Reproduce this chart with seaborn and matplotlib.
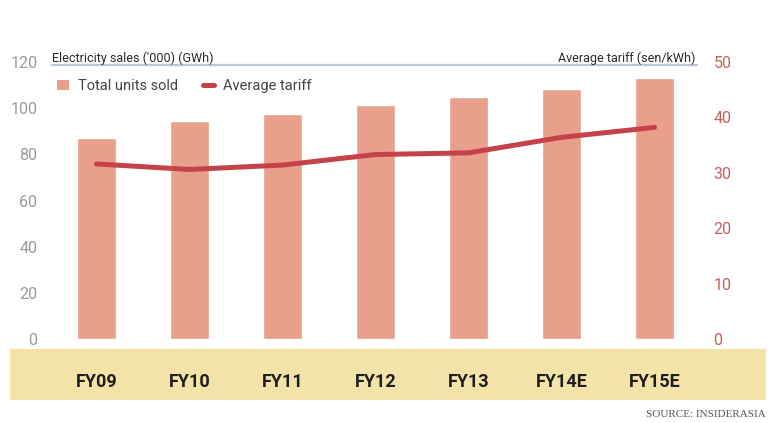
import numpy as np
import pandas as pd
import matplotlib
matplotlib.use("Agg")
import matplotlib.pyplot as plt
import seaborn as sns
from matplotlib.patches import Rectangle, Patch
from matplotlib.lines import Line2D

categories = ["FY09", "FY10", "FY11", "FY12", "FY13", "FY14E", "FY15E"]
units_sold = [87, 94.5, 97.5, 101.5, 105, 108.5, 113]          # '000 GWh
avg_tariff = [31.6, 30.6, 31.4, 33.3, 33.6, 36.4, 38.2]         # sen/kWh
left_ticks = [0, 20, 40, 60, 80, 100, 120]
right_ticks = [0, 10, 20, 30, 40, 50]

BAR = "#E8A08A"
LINE = "#C6424A"
RIGHT_TXT = "#C6625C"
LEFT_TXT = "#9A9A9A"
BAND = "#F4E3A9"

sns.set_theme(style="white")
plt.rcParams["font.family"] = ["Roboto", "DejaVu Sans"]

W, H = 768, 423
fig = plt.figure(figsize=(W / 100, H / 100), dpi=100)
fig.patch.set_facecolor("white")

# background band for categories (drawn beneath the axes)
fig.patches.append(Rectangle((10 / W, 1 - 400 / H), (766 - 10) / W, (400 - 349) / H,
                             transform=fig.transFigure, facecolor=BAND,
                             edgecolor="none", zorder=-5))

# axes geometry in pixels
x0, x1 = 50, 701
ybot, ytop = 349, 62
ax = fig.add_axes([x0 / W, 1 - ybot / H, (x1 - x0) / W, (ybot - ytop) / H])
ax.patch.set_alpha(0)

df = pd.DataFrame({"year": categories, "units": units_sold, "tariff": avg_tariff})
sns.barplot(data=df, x="year", y="units", color=BAR, width=0.41,
            saturation=1, ax=ax, zorder=2)
ax.set_xlim(-0.5, 6.5)
ax.set_ylim(-4.3, 120)
ax.set_yticks(left_ticks)
ax.set_xlabel("")
ax.set_ylabel("")
for s in ax.spines.values():
    s.set_visible(False)
ax.tick_params(axis="y", length=0, labelsize=11.5, labelcolor=LEFT_TXT, pad=9)
ax.tick_params(axis="x", length=0, labelsize=13, pad=17)
for t in ax.get_xticklabels():
    t.set_fontweight("bold")
    t.set_color("#1e1e1e")

ax2 = ax.twinx()
ax2.set_position(ax.get_position())
ax2.patch.set_alpha(0)
sns.lineplot(x=np.arange(len(categories)), y=df["tariff"], color=LINE, lw=3.6,
             ax=ax2, zorder=3)
ax2.set_ylim(-1.8, 50)
ax2.set_yticks(right_ticks)
ax2.set_ylabel("")
for s in ax2.spines.values():
    s.set_visible(False)
ax2.tick_params(axis="y", length=0, labelsize=11.5, labelcolor=RIGHT_TXT, pad=9)

# header rule and axis titles
fig.add_artist(Line2D([52 / W, 697 / W], [1 - 65 / H, 1 - 65 / H],
                      color="#BCC6D6", lw=1.6))
fig.text(52 / W, 1 - 58 / H, "Electricity sales ('000) (GWh)", fontsize=9,
         color="#2a2a2a", ha="left", va="center")
fig.text(695 / W, 1 - 58 / H, "Average tariff (sen/kWh)", fontsize=9,
         color="#2a2a2a", ha="right", va="center")

handles = [Patch(facecolor=BAR, edgecolor="none"),
           Line2D([0], [0], color=LINE, lw=3.6)]
leg = ax.legend(handles, ["Total units sold", "Average tariff"], ncol=2,
                loc="upper left", bbox_to_anchor=(0.0, 1.0 - 10 / (ybot - ytop)),
                frameon=False, fontsize=10.5, handlelength=0.8, handleheight=0.7,
                columnspacing=1.7, handletextpad=0.6, borderaxespad=0.1)
for t in leg.get_texts():
    t.set_color("#444444")

fig.text(766 / W, 1 - 414 / H, "SOURCE: INSIDERASIA", fontsize=8, color="#555555",
         ha="right", va="center", family=["Liberation Serif", "DejaVu Serif"])

fig.savefig("out.png", dpi=100)
